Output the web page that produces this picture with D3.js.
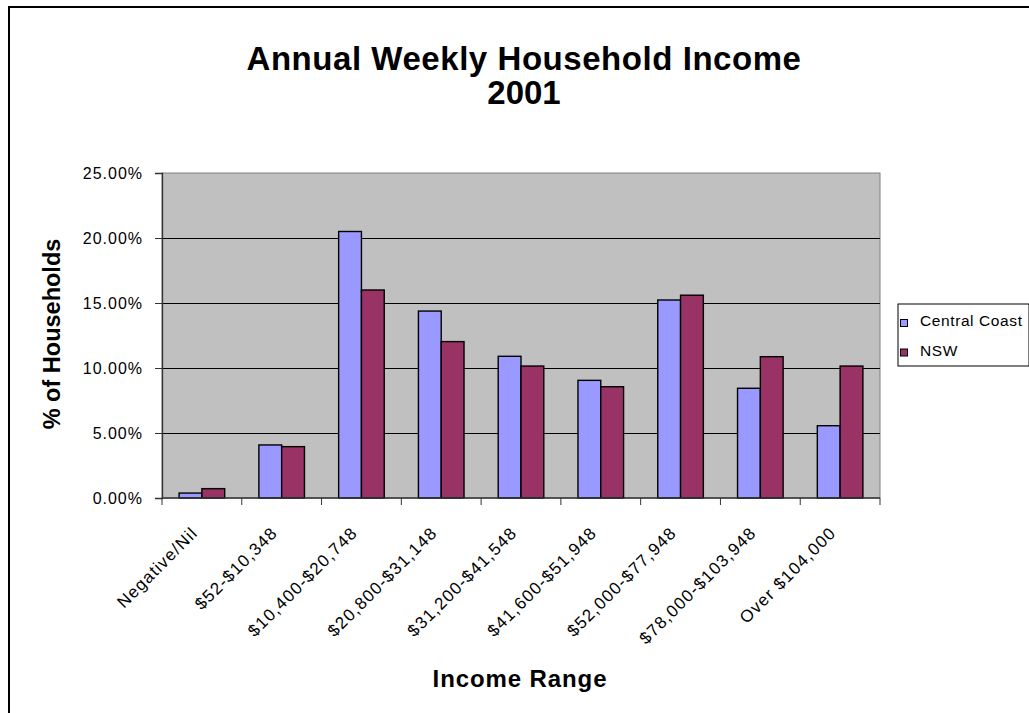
<!DOCTYPE html>
<html>
<head>
<meta charset="utf-8">
<script src="https://cdn.jsdelivr.net/npm/d3@7"></script>
<style>
  html, body { margin: 0; padding: 0; background: #fff; }
  svg { display: block; font-family: "Liberation Sans", Arial, sans-serif; }
</style>
</head>
<body>
<svg id="chart" width="1029" height="713"></svg>
<script>
// Income ranges (annual) and share of households, 2001
const categories = [
  "Negative/Nil", "$52-$10,348", "$10,400-$20,748", "$20,800-$31,148",
  "$31,200-$41,548", "$41,600-$51,948", "$52,000-$77,948",
  "$78,000-$103,948", "Over $104,000"
];
const seriesNames = ["Central Coast", "NSW"];
const centralCoast = [0.0038, 0.0408, 0.2050, 0.1438, 0.1090, 0.0905, 0.1523, 0.0844, 0.0556];
const nsw          = [0.0072, 0.0395, 0.1600, 0.1203, 0.1015, 0.0856, 0.1560, 0.1087, 0.1015];
const yTicks = [0, 0.05, 0.10, 0.15, 0.20, 0.25];
const colors = ["#9999FF", "#993366"];

const FONT = "'Liberation Sans', Arial, sans-serif";
const svg = d3.select("#chart");

// Outer chart frame
svg.append("path")
  .attr("d", "M9,713 V7 H1029")
  .attr("fill", "none").attr("stroke", "#000").attr("stroke-width", 2);

const plot = { left: 162, right: 880, top: 173, bottom: 498 };

const x0 = d3.scaleBand().domain(categories)
  .range([plot.left, plot.right]).paddingInner(0).paddingOuter(0);
const x1 = d3.scaleBand().domain(seriesNames)
  .range([0, x0.bandwidth()]).paddingInner(0).paddingOuter(0.75);
const y = d3.scaleLinear().domain([0, 0.25]).range([plot.bottom, plot.top]);

// Plot background
svg.append("rect")
  .attr("x", plot.left).attr("y", plot.top)
  .attr("width", plot.right - plot.left).attr("height", plot.bottom - plot.top)
  .attr("fill", "#C0C0C0").attr("stroke", "#808080").attr("stroke-width", 1);

// Gridlines
svg.append("g").selectAll("line")
  .data(yTicks.filter(t => t > 0 && t < 0.25))
  .join("line")
  .attr("x1", plot.left).attr("x2", plot.right)
  .attr("y1", d => Math.round(y(d)) + 0.5).attr("y2", d => Math.round(y(d)) + 0.5)
  .attr("stroke", "#000").attr("stroke-width", 1);

// Bars
const data = categories.map((c, i) => ({ cat: c, vals: [centralCoast[i], nsw[i]] }));
const groups = svg.append("g").selectAll("g")
  .data(data).join("g")
  .attr("transform", d => `translate(${x0(d.cat)},0)`);
groups.selectAll("rect")
  .data(d => d.vals.map((v, k) => ({ name: seriesNames[k], v, k })))
  .join("rect")
  .attr("x", d => x1(d.name))
  .attr("width", x1.bandwidth())
  .attr("y", d => y(d.v))
  .attr("height", d => y(0) - y(d.v))
  .attr("fill", d => colors[d.k])
  .attr("stroke", "#000").attr("stroke-width", 1.4);

// Y axis
const yAxis = d3.axisLeft(y).tickValues(yTicks)
  .tickFormat(d => (d * 100).toFixed(2) + "%")
  .tickSize(7).tickPadding(12);
const gy = svg.append("g").attr("transform", `translate(${plot.left},0)`).call(yAxis);
gy.attr("font-family", FONT).attr("font-size", 16);
gy.select(".domain").attr("stroke", "#333").attr("stroke-width", 1.3);
gy.selectAll(".tick line").attr("stroke", "#333");
gy.selectAll("text").attr("fill", "#000").attr("letter-spacing", 1);

// X axis with ticks between categories
const gx = svg.append("g").attr("transform", `translate(0,${plot.bottom})`);
gx.append("line").attr("x1", plot.left).attr("x2", plot.right)
  .attr("y1", 0).attr("y2", 0).attr("stroke", "#333").attr("stroke-width", 1.3);
gx.selectAll(".xtick")
  .data(categories.map(c => x0(c)).concat([plot.right]))
  .join("line").attr("class", "xtick")
  .attr("x1", d => d).attr("x2", d => d).attr("y1", 0).attr("y2", 7)
  .attr("stroke", "#333");
gx.selectAll(".xlabel")
  .data(categories).join("text").attr("class", "xlabel")
  .attr("transform", d => `translate(${x0(d) + x0.bandwidth() / 2 - 3},${36}) rotate(-45)`)
  .attr("text-anchor", "end")
  .attr("font-size", 17)
  .attr("letter-spacing", 1.2)
  .text(d => d);

// Titles
svg.append("text").attr("x", 524).attr("y", 70)
  .attr("text-anchor", "middle").attr("font-size", 33).attr("font-weight", "bold")
  .attr("letter-spacing", 0.55)
  .text("Annual Weekly Household Income");
svg.append("text").attr("x", 524).attr("y", 104)
  .attr("text-anchor", "middle").attr("font-size", 33).attr("font-weight", "bold")
  .text("2001");

svg.append("text").attr("x", 520).attr("y", 687)
  .attr("text-anchor", "middle").attr("font-size", 24).attr("font-weight", "bold")
  .attr("letter-spacing", 0.9)
  .text("Income Range");

svg.append("text")
  .attr("transform", "translate(60,334) rotate(-90)")
  .attr("text-anchor", "middle").attr("font-size", 23.5).attr("font-weight", "bold")
  .text("% of Households");

// Legend
const legend = svg.append("g").attr("transform", "translate(898,304)");
legend.append("rect").attr("x", 0).attr("y", 0).attr("width", 131).attr("height", 62)
  .attr("fill", "#fff").attr("stroke", "#000").attr("stroke-width", 1);
const li = legend.selectAll(".li").data(seriesNames).join("g").attr("class", "li")
  .attr("transform", (d, i) => `translate(0,${i * 29.5})`);
li.append("rect").attr("x", 2.5).attr("y", 15.5).attr("width", 7).attr("height", 7)
  .attr("fill", (d, i) => colors[i]).attr("stroke", "#000").attr("stroke-width", 1);
li.append("text").attr("x", 22).attr("y", 22).attr("font-size", 15.5)
  .attr("letter-spacing", 0.6).text(d => d);
</script>
</body>
</html>
